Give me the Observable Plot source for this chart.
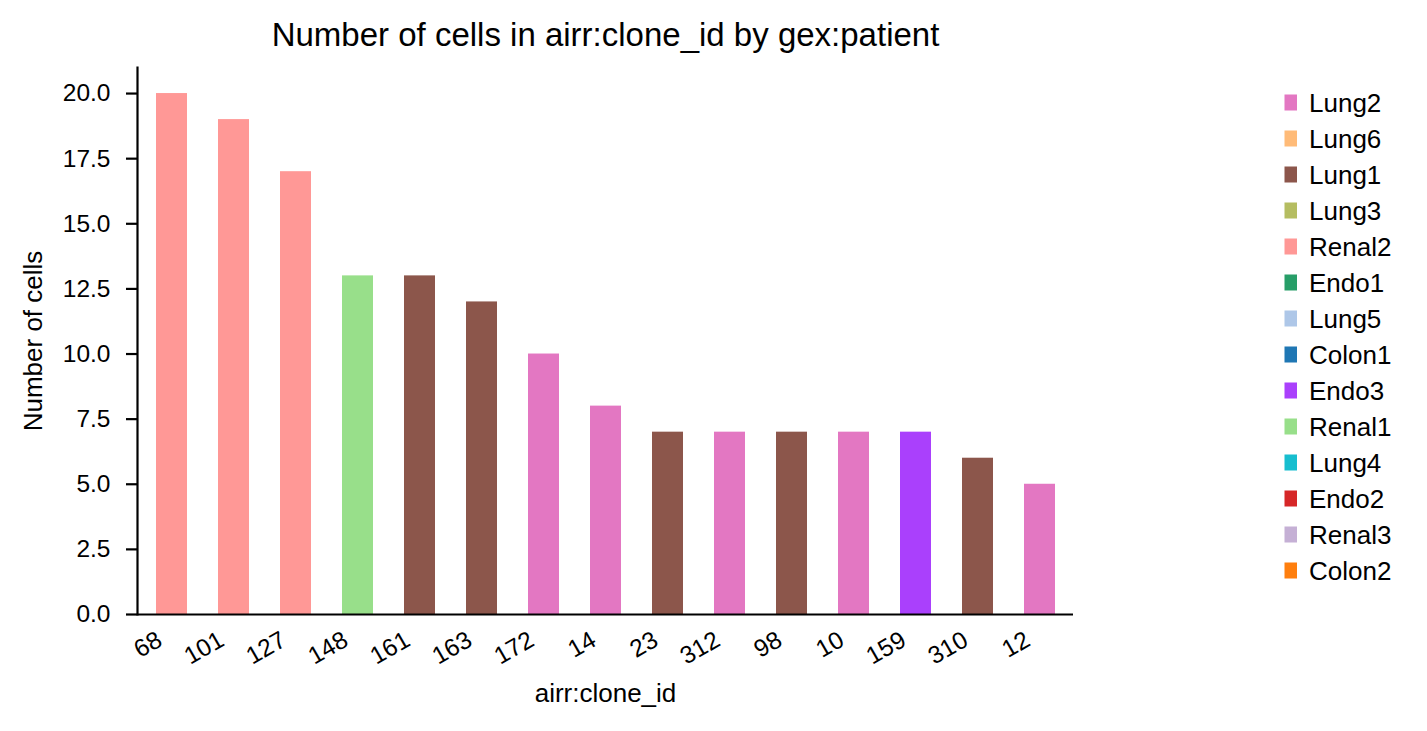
<!DOCTYPE html>
<html>
<head>
<meta charset="utf-8">
<script src="https://cdn.jsdelivr.net/npm/d3@7"></script>
<script src="https://cdn.jsdelivr.net/npm/@observablehq/plot@0.6"></script>
<style>
  html, body { margin: 0; padding: 0; background: #fff; }
  svg { font-family: "Liberation Sans", Arial, sans-serif; }
</style>
</head>
<body>
<div id="chart"></div>
<script>
const cloneIds = ["68","101","127","148","161","163","172","14","23","312","98","10","159","310","12"];
const cellCounts = [20,19,17,13,13,12,10,8,7,7,7,7,7,6,5];
const patients = ["Renal2","Renal2","Renal2","Renal1","Lung1","Lung1","Lung2","Lung2","Lung1","Lung2","Lung1","Lung2","Endo3","Lung1","Lung2"];
const legendPatients = ["Lung2","Lung6","Lung1","Lung3","Renal2","Endo1","Lung5","Colon1","Endo3","Renal1","Lung4","Endo2","Renal3","Colon2"];
const legendColors = ["#e377c2","#ffbb78","#8c564b","#b5bd61","#ff9896","#279e68","#aec7e8","#1f77b4","#aa40fc","#98df8a","#17becf","#d62728","#c5b0d5","#ff7f0e"];
const yTicks = [0,2.5,5,7.5,10,12.5,15,17.5,20];

const data = cloneIds.map((id, i) => ({id, n: cellCounts[i], patient: patients[i]}));

const W = 1427, H = 731;
const mL = 137, mR = 354, mT = 67, mB = 117;

const plot = Plot.plot({
  width: W, height: H,
  marginLeft: mL, marginRight: mR, marginTop: mT, marginBottom: mB,
  style: {fontFamily: "Liberation Sans, Arial, sans-serif", fontSize: "24.5px", color: "#000", background: "#fff"},
  x: {type: "band", domain: cloneIds, paddingInner: 0.5, paddingOuter: 0.25, label: null},
  y: {domain: [0, 21], label: null},
  color: {domain: legendPatients, range: legendColors},
  marks: [
    Plot.barY(data, {x: "id", y: "n", fill: "patient"}),
    Plot.axisY({ticks: yTicks, tickFormat: d3.format(".1f"), tickSize: 11, tickPadding: 16, strokeWidth: 2.2, fontSize: 24.5, label: null}),
    Plot.axisX({tickSize: 0, tickRotate: -30, textAnchor: "end", lineAnchor: "top", dx: -17, tickPadding: 15, fontSize: 24.5, label: null}),
    Plot.frame({anchor: "left", strokeWidth: 2.2}),
    Plot.ruleY([0], {strokeWidth: 2.2}),
    Plot.text(["Number of cells in airr:clone_id by gex:patient"], {frameAnchor: "top", lineAnchor: "middle", dy: -32, fontSize: 33, text: d => d}),
    Plot.text(["airr:clone_id"], {frameAnchor: "bottom", lineAnchor: "middle", dy: 79, fontSize: 26, text: d => d}),
    Plot.text(["Number of cells"], {frameAnchor: "left", textAnchor: "middle", lineAnchor: "middle", dx: -104, rotate: -90, fontSize: 26, text: d => d})
  ]
});

document.getElementById("chart").appendChild(plot);

// Legend
const svg = d3.select(plot);
const lg = svg.append("g")
  .attr("font-family", "Liberation Sans, Arial, sans-serif")
  .attr("font-size", 26)
  .attr("text-anchor", "start");
const rowH = 36, y0 = 102.5;
legendPatients.forEach((p, i) => {
  const cy = y0 + i * rowH;
  lg.append("rect").attr("x", 1284.5).attr("y", cy - 8).attr("width", 12.5).attr("height", 16).attr("fill", legendColors[i]);
  lg.append("text").attr("x", 1309).attr("y", cy).attr("dy", "0.35em").attr("fill", "#000").attr("text-anchor", "start").text(p);
});
</script>
</body>
</html>
